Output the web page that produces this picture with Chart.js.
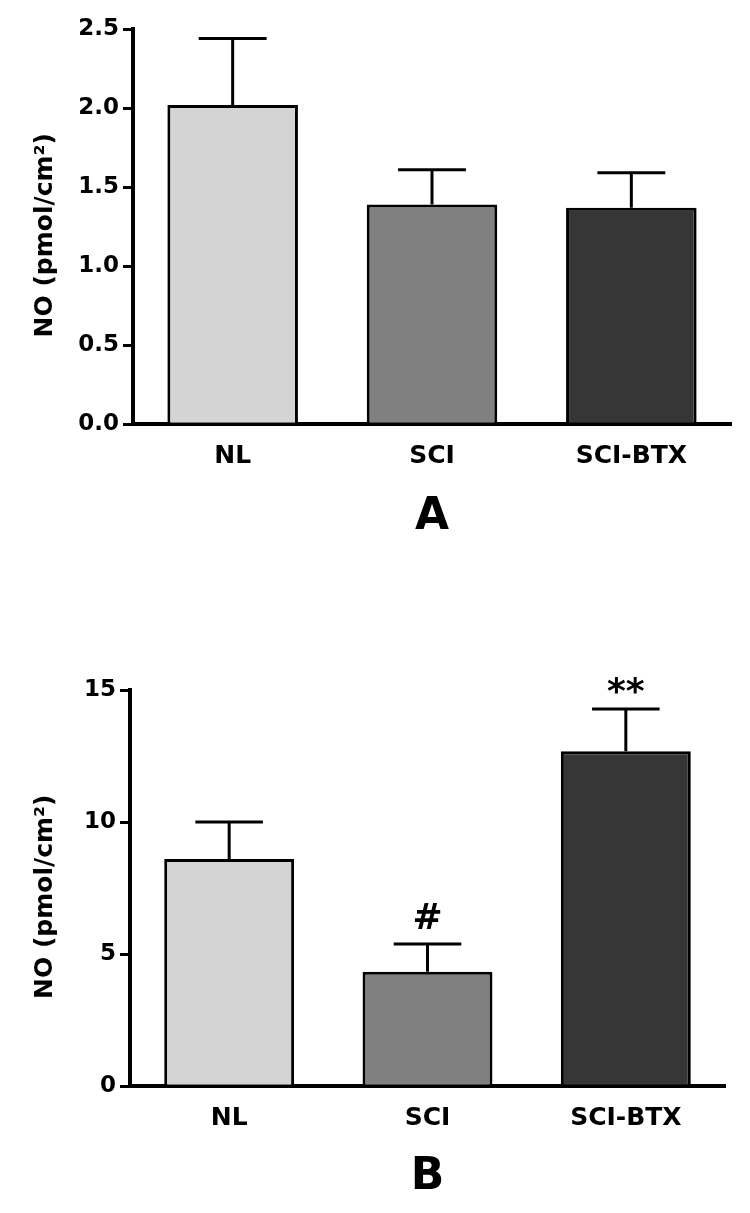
<!DOCTYPE html>
<html>
<head>
<meta charset="utf-8">
<script src="https://cdn.jsdelivr.net/npm/chart.js@4.4.1/dist/chart.umd.min.js"></script>
<style>
  html, body { margin: 0; padding: 0; background: #fff; }
  body { width: 750px; height: 1213px; position: relative; overflow: hidden; }
  .panel { position: absolute; left: 0; width: 750px; }
  #panelA { top: 0; height: 570px; }
  #panelB { top: 600px; height: 613px; }
</style>
</head>
<body>
<div class="panel" id="panelA"><canvas id="chartA"></canvas></div>
<div class="panel" id="panelB"><canvas id="chartB"></canvas></div>
<script>
const groups = ["NL", "SCI", "SCI-BTX"];
const barColors = ["#d4d4d4", "#808080", "#363636"];

// panel A
const meanA = [2.02, 1.39, 1.37];
const semA = [0.42, 0.22, 0.22];
const marksA = ["", "", ""];
const ticksA = [0, 0.5, 1.0, 1.5, 2.0, 2.5];

// panel B
const meanB = [8.6, 4.33, 12.68];
const semB = [1.4, 1.05, 1.6];
const marksB = ["", "#", "**"];
const ticksB = [0, 5, 10, 15];

const fontFamily = "'DejaVu Sans', sans-serif";

// draws the error whiskers and significance marks above each bar
const errorBars = {
  id: "errorBars",
  afterDatasetsDraw(chart) {
    const ctx = chart.ctx;
    const yScale = chart.scales.y;
    chart.data.datasets.forEach((ds, di) => {
      const meta = chart.getDatasetMeta(di);
      meta.data.forEach((bar, i) => {
        const x = bar.x;
        const yTop = yScale.getPixelForValue(ds.data[i]);
        const yErr = yScale.getPixelForValue(ds.data[i] + ds.errors[i]);
        const capHalf = bar.width * 0.26;
        ctx.save();
        ctx.strokeStyle = "#000";
        ctx.lineWidth = 3;
        ctx.beginPath();
        ctx.moveTo(x, yTop);
        ctx.lineTo(x, yErr);
        ctx.moveTo(x - capHalf, yErr);
        ctx.lineTo(x + capHalf, yErr);
        ctx.stroke();
        const mark = ds.marks[i];
        if (mark) {
          ctx.font = "bold 36px " + fontFamily;
          ctx.fillStyle = "#000";
          ctx.textAlign = "center";
          ctx.textBaseline = "alphabetic";
          const m = ctx.measureText(mark);
          ctx.fillText(mark, x, yErr - 15 - m.actualBoundingBoxDescent);
        }
        ctx.restore();
      });
    });
  },
};

function makeChart(canvasId, means, errs, marks, yTicks, letter, pad, axisWidth, titlePad) {
  const canvas = document.getElementById(canvasId);
  return new Chart(canvas, {
    type: "bar",
    data: {
      labels: groups,
      datasets: [
        {
          data: means,
          errors: errs,
          marks: marks,
          backgroundColor: barColors,
          borderColor: "#000",
          borderWidth: 3,
          barPercentage: 0.655,
          categoryPercentage: 1,
        },
      ],
    },
    options: {
      responsive: true,
      maintainAspectRatio: false,
      animation: false,
      layout: { padding: pad },
      plugins: {
        legend: { display: false },
        tooltip: { enabled: false },
        title: {
          display: true,
          text: letter,
          position: "bottom",
          fullSize: false,
          color: "#000",
          font: { family: fontFamily, size: 44, weight: "bold" },
          padding: { top: titlePad, bottom: 0 },
        },
      },
      scales: {
        x: {
          afterFit: (scale) => {
            scale.height = 49;
          },
          grid: { display: false, drawTicks: false },
          border: { display: true, color: "#000", width: 4 },
          ticks: {
            color: "#000",
            padding: 17,
            font: { family: fontFamily, size: 25, weight: "bold" },
          },
        },
        y: {
          min: yTicks[0],
          max: yTicks[yTicks.length - 1],
          afterBuildTicks: (scale) => {
            scale.ticks = yTicks.map((v) => ({ value: v }));
          },
          afterFit: (scale) => {
            scale.width = axisWidth;
          },
          grid: {
            drawOnChartArea: false,
            drawTicks: true,
            tickLength: 10,
            color: "#000",
            lineWidth: 3,
          },
          border: { display: true, color: "#000", width: 4 },
          ticks: {
            color: "#000",
            padding: 4,
            font: { family: fontFamily, size: 23, weight: "bold" },
            callback: (v) => (yTicks[yTicks.length - 1] < 5 ? Number(v).toFixed(1) : v),
          },
          title: {
            display: true,
            text: "NO (pmol/cm²)  ",
            color: "#000",
            font: { family: fontFamily, size: 25, weight: "bold" },
            padding: { top: 4, bottom: 4 },
          },
        },
      },
    },
    plugins: [errorBars],
  });
}

makeChart("chartA", meanA, semA, marksA, ticksA, "A",
  { left: 26, right: 19, top: 29, bottom: 26 }, 107, 18);
makeChart("chartB", meanB, semB, marksB, ticksB, "B",
  { left: 26, right: 25, top: 90, bottom: 9 }, 104, 16);
</script>
</body>
</html>
